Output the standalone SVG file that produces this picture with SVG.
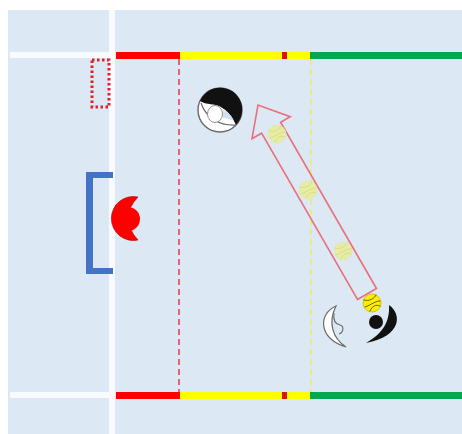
<svg xmlns="http://www.w3.org/2000/svg" width="462" height="434" viewBox="0 0 462 434">
  <defs>
    <style>
      .ball-line { fill: none; stroke-width: 0.9; stroke-linecap: round; }
      .faded-body { fill: #e6eca2; stroke: #e0e5b4; stroke-width: 0.8; }
      .faded-line { stroke: #d3da8e; }
      .arrow-outline { fill: none; stroke: #e8707c; stroke-width: 1.6; stroke-linejoin: miter; }
    </style>
  </defs>

  <!-- pool surface -->
  <g id="pool">
    <rect x="0" y="0" width="462" height="434" fill="#ffffff"/>
    <rect x="8" y="10" width="454" height="424" fill="#dce8f4"/>
  </g>

  <!-- court markings -->
  <g id="markings">
    <rect x="109" y="10" width="6" height="424" fill="#f8fbfe"/>
    <rect x="10" y="52" width="100" height="6" fill="#f8fbfe"/>
    <rect x="10" y="392" width="100" height="6" fill="#f8fbfe"/>

    <!-- top side line: 2 m / 5 m / half -->
    <rect x="116" y="52" width="64" height="7" fill="#ff0000"/>
    <rect x="180" y="52" width="130" height="7" fill="#ffff00"/>
    <rect x="282" y="52" width="5" height="7" fill="#e01010"/>
    <rect x="310" y="52" width="152" height="7" fill="#00a84f"/>

    <!-- bottom side line -->
    <rect x="116" y="392" width="64" height="7" fill="#ff0000"/>
    <rect x="180" y="392" width="130" height="7" fill="#ffff00"/>
    <rect x="282" y="392" width="5" height="7" fill="#e01010"/>
    <rect x="310" y="392" width="152" height="7" fill="#00a84f"/>

    <line x1="179" y1="59" x2="179" y2="392" stroke="#e8364a" stroke-width="1.5" stroke-dasharray="6 4"/>
    <line x1="311" y1="59" x2="311" y2="392" stroke="#eded60" stroke-width="1.5" stroke-dasharray="6 4"/>

    <!-- re-entry area -->
    <rect x="92" y="60" width="17" height="47" fill="none" stroke="#e0202a" stroke-width="3" stroke-dasharray="2.5 2.5"/>
  </g>

  <!-- goal -->
  <g id="goal">
    <path d="M 113,172 H 86 V 274 H 113 V 268 H 93 V 178 H 113 Z" fill="#4472c4"/>
  </g>

  <!-- goalkeeper -->
  <g id="goalkeeper">
    <path d="M 138,197 A 22 22 0 1 0 138,240 Q 118,218 138,197 Z" fill="#ff0000" stroke="#b00000" stroke-width="0.6"/>
    <circle cx="128" cy="219" r="12" fill="#ff0000"/>
  </g>

  <!-- defender near the 2 m line -->
  <g id="player-top" transform="translate(220,110)">
    <circle r="22" fill="#ffffff" stroke="#6a6a6a" stroke-width="1.4"/>
    <path d="M -20,-9 A 22 22 0 1 1 16,15 C 12,6 6,-2 -4,-5 C -12,-6 -17,-7 -20,-9 Z" fill="#111111"/>
    <path d="M -19,-7 C -14,8 0,16 16,15" fill="none" stroke="#6a6a6a" stroke-width="1.2"/>
    <ellipse cx="-5" cy="4" rx="7.5" ry="8.5" fill="#ffffff" stroke="#777777" stroke-width="0.8"/>
    <path d="M 3,0 C 8,2 12,6 14,11 C 10,9 6,8 3,8 Z" fill="#cfe0f0"/>
  </g>

  <!-- attacker and defender on the wing -->
  <g id="player-white">
    <path d="M 336,306 C 318,314 318,338 346,347 C 332,338 328,322 336,306 Z" fill="#ffffff" stroke="#6a6a6a" stroke-width="1.2"/>
    <path d="M 334,313 C 333,320 335,324 340,325 C 344,326 344,332 339,334" fill="none" stroke="#6a6a6a" stroke-width="1.1"/>
  </g>
  <g id="player-black">
    <path d="M 389,305 C 402,314 402,336 366,343 C 384,333 390,320 389,305 Z" fill="#111111"/>
    <circle cx="376" cy="322" r="7" fill="#111111"/>
  </g>

  <!-- pass path -->
  <g id="connectors">
    <polygon class="arrow-outline" points="357.5,299.5 376.5,288.5 280.6,122.2 290.2,116.7 258,105 252,138.7 261.6,133.2"/>
  </g>

  <!-- ball positions along the pass -->
  <g id="balls">
    <g transform="translate(277,134)">
      <circle class="faded-body" r="9"/>
      <path class="ball-line faded-line" d="M -8,-3 C -3,-1 3,-5 4,-8 M -7,4 C -1,2 5,-3 8,-2 M -2,8 C 0,3 4,1 8,3"/>
    </g>
    <g transform="translate(308,190)">
      <circle class="faded-body" r="9"/>
      <path class="ball-line faded-line" d="M -8,-3 C -3,-1 3,-5 4,-8 M -7,4 C -1,2 5,-3 8,-2 M -2,8 C 0,3 4,1 8,3"/>
    </g>
    <g transform="translate(343,251)">
      <circle class="faded-body" r="9"/>
      <path class="ball-line faded-line" d="M -8,-3 C -3,-1 3,-5 4,-8 M -7,4 C -1,2 5,-3 8,-2 M -2,8 C 0,3 4,1 8,3"/>
    </g>
    <g id="ball-now" transform="translate(372,303)">
      <circle r="9" fill="#ffee00" stroke="#c8b800" stroke-width="0.8"/>
      <path class="ball-line" stroke="#5a5200" d="M -8,-3 C -3,-1 3,-5 4,-8 M -7,4 C -1,2 5,-3 8,-2 M -2,8 C 0,3 4,1 8,3"/>
    </g>
  </g>
</svg>
